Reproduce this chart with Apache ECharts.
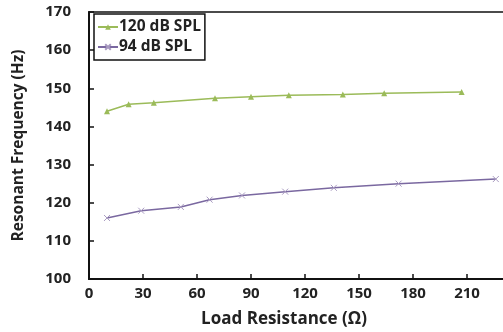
<!DOCTYPE html>
<html><head><meta charset="utf-8">
<script src="https://cdn.jsdelivr.net/npm/echarts@6/dist/echarts.min.js"></script>
<style>html,body{margin:0;padding:0;background:#fff}#c{width:503px;height:332px}</style>
</head><body><div id="c"></div>
<script>
const seriesNames = ['120 dB SPL', '94 dB SPL'];
const x120 = [10, 22, 36, 70, 90, 111, 141, 164, 207];
const y120 = [144, 145.8, 146.2, 147.4, 147.8, 148.2, 148.4, 148.7, 149];
const x94 = [10, 29, 51, 67, 85, 109, 136, 172, 226];
const y94 = [116, 117.9, 118.9, 120.8, 121.9, 122.9, 123.9, 125, 126.2];

const font = '"Open Sans", sans-serif';
const chart = echarts.init(document.getElementById('c'));
chart.setOption({
  animation: false,
  grid: { left: 89, top: 12, bottom: 53, right: -18, show: true, borderColor: '#111', borderWidth: 1.5,
          containLabel: false, outerBoundsMode: 'none' },
  legend: {
    orient: 'vertical', left: 94, top: 14, padding: [5, 4, 5, 3], itemGap: 4,
    borderColor: '#111', borderWidth: 1.5, backgroundColor: '#fff',
    itemWidth: 20, itemHeight: 7,
    textStyle: { fontFamily: font, fontWeight: 'bold', fontSize: 15.5, color: '#222', padding: [0, 0, 0, -4] },
    data: seriesNames
  },
  xAxis: {
    type: 'value', min: 0, max: 240, interval: 30,
    name: 'Load Resistance (Ω)', nameLocation: 'middle', nameGap: 32,
    nameTextStyle: { fontFamily: font, fontWeight: 'bold', fontSize: 17, color: '#222', padding: [0, 0, 0, -42] },
    axisLine: { lineStyle: { color: '#111', width: 2 } },
    axisTick: { inside: true, length: 5, lineStyle: { color: '#111', width: 1.5 } },
    axisLabel: { fontFamily: font, fontWeight: 'bold', fontSize: 15, color: '#222', margin: 7 },
    splitLine: { show: false }
  },
  yAxis: {
    type: 'value', min: 100, max: 170, interval: 10,
    name: 'Resonant Frequency (Hz)', nameLocation: 'middle', nameGap: 62,
    nameTextStyle: { fontFamily: font, fontWeight: 'bold', fontSize: 15.5, color: '#222' },
    axisLine: { show: true, lineStyle: { color: '#111', width: 2 } },
    axisTick: { show: true, inside: true, length: 5, lineStyle: { color: '#111', width: 1.5 } },
    axisLabel: { fontFamily: font, fontWeight: 'bold', fontSize: 15, color: '#222', margin: 18 },
    splitLine: { show: false }
  },
  series: [
    {
      name: seriesNames[0], type: 'line', data: x120.map((v, i) => [v, y120[i]]),
      symbol: 'triangle', symbolSize: 6, color: '#9bbb59',
      lineStyle: { color: '#9bbb59', width: 1.5 }, itemStyle: { color: '#9bbb59' }
    },
    {
      name: seriesNames[1], type: 'line', data: x94.map((v, i) => [v, y94[i]]),
      symbol: 'path://M0,0L10,10M10,0L0,10', symbolSize: 6, color: '#8064a2',
      lineStyle: { color: '#7a68a0', width: 1.5 },
      itemStyle: { color: 'none', borderColor: '#a89ac0', borderWidth: 1 }
    }
  ]
});
</script></body></html>
